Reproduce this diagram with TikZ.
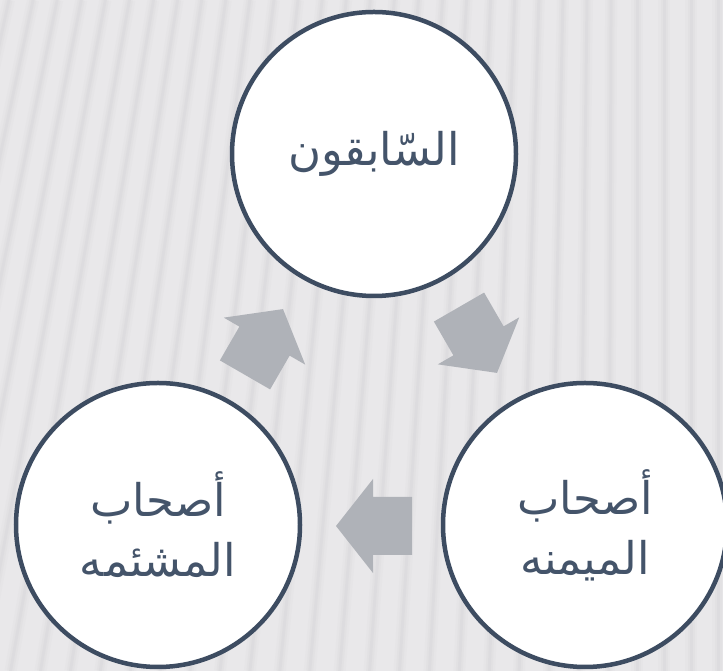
\documentclass[tikz,border=0pt]{standalone}
\usepackage{fontspec}
\TeXXeTstate=1
\newfontfamily\arabicfont[Script=Arabic]{DejaVu Sans}
\definecolor{bgc}{HTML}{E9E8EA}
\definecolor{stripec}{HTML}{D2D1D4}
\definecolor{ringc}{HTML}{3D4C61}
\definecolor{textc}{HTML}{44546A}
\definecolor{arrowc}{HTML}{AFB2B8}
\tikzset{
  ring/.style={circle, draw=ringc, line width=4.5pt, fill=white, minimum size=284pt, inner sep=0pt,
    font=\arabicfont\fontsize{45}{60}\selectfont, text=textc, align=center},
  blockarrow/.style={fill=arrowc, draw=none},
}
\begin{document}
\begin{tikzpicture}[x=1pt,y=1pt]
\useasboundingbox (0,0) rectangle (723,671);
\fill[bgc] (0,0) rectangle (723,671);
\begin{scope}
\clip (0,0) rectangle (723,671);
\foreach \xm in {-200,-173,...,780}{
  \pgfmathsetmacro{\s}{max(0,0.2*(1-\xm/620))*335}
  \draw[stripec, line width=12pt, opacity=0.12] (\xm-\s,0) -- (\xm+\s,671);
  \draw[stripec, line width=7pt, opacity=0.18] (\xm-\s,0) -- (\xm+\s,671);
  \draw[stripec, line width=3pt, opacity=0.25] (\xm-\s,0) -- (\xm+\s,671);
}
\end{scope}
% arrows
\begin{scope}[shift={(374,145)}, rotate=180]
  \fill[blockarrow] (-38,-29) -- (1,-29) -- (1,-47) -- (38,0) -- (1,47) -- (1,29) -- (-38,29) -- cycle;
\end{scope}
\begin{scope}[shift={(264,329)}, rotate=60]
  \fill[blockarrow] (-38,-29) -- (1,-29) -- (1,-47) -- (38,0) -- (1,47) -- (1,29) -- (-38,29) -- cycle;
\end{scope}
\begin{scope}[shift={(478,331)}, rotate=-60]
  \fill[blockarrow] (-38,-29) -- (1,-29) -- (1,-47) -- (38,0) -- (1,47) -- (1,29) -- (-38,29) -- cycle;
\end{scope}
% circles with labels
\node[ring] (top) at (374,517) {\beginR السّابقون\endR};
\node[ring] (left) at (158,146) {\beginR أصحاب\endR\\\beginR المشئمه\endR};
\node[ring] (right) at (585,146) {\beginR أصحاب\endR\\\beginR الميمنه\endR};
\end{tikzpicture}
\end{document}
